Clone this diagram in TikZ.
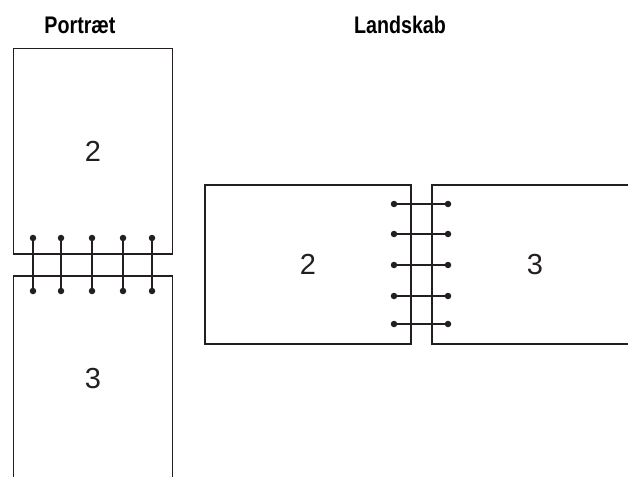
\documentclass[tikz,border=0pt]{standalone}
\usepackage{fontspec}
\setmainfont{Liberation Sans}
\newfontfamily\headfont[FakeStretch=0.82]{Liberation Sans}
\usetikzlibrary{positioning}
\definecolor{ink}{RGB}{35,31,32}

\begin{document}
\begin{tikzpicture}[x=1pt, y=-1pt,
  sheet/.style={rectangle, draw=ink, line width=1.9pt, inner sep=0pt, text=ink,
    font=\fontsize{29}{29}\selectfont},
  ring/.style={circle, fill=ink, minimum size=6.5pt, inner sep=0pt},
  wire/.style={draw=ink, line width=2.7pt},
  head/.style={font=\headfont\bfseries\fontsize{24}{24}\selectfont}]
  \clip (0,0) rectangle (628,476);
  \node[head] (tp) at (80,25) {Portræt};
  \node[head] (tl) at (400,25) {Landskab};
  \node[sheet, minimum width=159pt, minimum height=205.5pt] (p2) at (93,151.25) {2};
  \node[sheet, minimum width=159pt, minimum height=205.5pt] (p3) at (93,378.75) {3};
  \node[sheet, minimum width=206pt, minimum height=159pt] (l2) at (308,264.5) {2};
  \node[sheet, minimum width=206pt, minimum height=159pt] (l3) at (535,264.5) {3};
  \foreach \x [count=\i] in {33,61,92,123,152} {
    \node[ring] (pa\i) at (\x,238) {};
    \node[ring] (pb\i) at (\x,291) {};
    \draw[wire] (pa\i.center) -- (pb\i.center);
  }
  \foreach \y [count=\i] in {204,234,265,296,324} {
    \node[ring] (la\i) at (394,\y) {};
    \node[ring] (lb\i) at (448,\y) {};
    \draw[wire] (la\i.center) -- (lb\i.center);
  }
\end{tikzpicture}
\end{document}
